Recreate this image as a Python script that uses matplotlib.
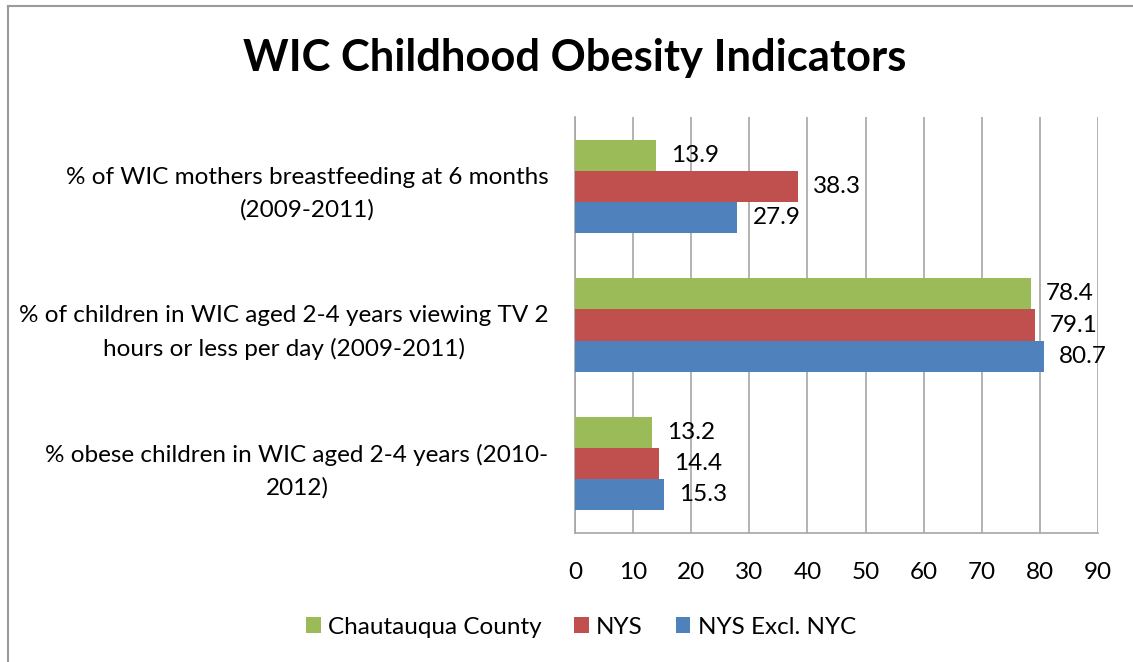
import matplotlib
matplotlib.use("Agg")
import matplotlib.pyplot as plt
from matplotlib.patches import Patch
from matplotlib.lines import Line2D
import numpy as np

plt.rcParams['font.family'] = ['Lato', 'DejaVu Sans']

categories = [
    "% obese children in WIC aged 2-4 years (2010-\n2012)",
    "% of children in WIC aged 2-4 years viewing TV 2\nhours or less per day (2009-2011)",
    "% of WIC mothers breastfeeding at 6 months\n(2009-2011)",
]
series_names = ["Chautauqua County", "NYS", "NYS Excl. NYC"]
chautauqua = [13.2, 78.4, 13.9]
nys = [14.4, 79.1, 38.3]
nys_excl_nyc = [15.3, 80.7, 27.9]
colors = ["#9BBB59", "#C0504D", "#4F81BD"]
xticks = [0, 10, 20, 30, 40, 50, 60, 70, 80, 90]

W, H = 1133, 662
fig = plt.figure(figsize=(W / 100, H / 100), dpi=100)
ax = fig.add_axes([575 / W, 1 - 533 / H, (1098 - 575) / W, (533 - 117) / H])

y = np.arange(len(categories))
bh = 0.224
offsets = [bh, 0, -bh]
fs = 17.5
for vals, off, c, name in zip([chautauqua, nys, nys_excl_nyc], offsets, colors, series_names):
    bars = ax.barh(y + off, vals, height=bh, color=c, label=name, zorder=3)
    for b, v in zip(bars, vals):
        ax.annotate(f"{v}", (v, b.get_y() + b.get_height() / 2), xytext=(11, 0),
                    textcoords="offset points", ha="left", va="center",
                    fontsize=fs, color="black", zorder=4)

ax.set_xlim(0, 90)
ax.set_ylim(-0.5, 2.5)
ax.set_xticks(xticks)
ax.set_xticklabels([str(t) for t in xticks], fontsize=fs)
ax.set_yticks(y)
ax.set_yticklabels(categories, fontsize=fs)
for lbl in ax.get_yticklabels():
    lbl.set_multialignment("center")
    lbl.set_linespacing(1.65)
ax.tick_params(axis="x", length=0, pad=21)
ax.tick_params(axis="y", length=0, pad=19)
ax.grid(axis="x", color="#A6A6A6", linewidth=1.2, zorder=0)
for s in ["top", "right"]:
    ax.spines[s].set_visible(False)
for s in ["left", "bottom"]:
    ax.spines[s].set_color("#A6A6A6")
    ax.spines[s].set_linewidth(1.2)

fig.text(575 / W, 1 - 58 / H, "WIC Childhood Obesity Indicators", ha="center", va="center",
         fontsize=31.3, fontweight="bold")

handles = [Patch(facecolor=c, edgecolor="none") for c in colors]
fig.legend(handles, series_names, loc="center", bbox_to_anchor=(581 / W, 1 - 627 / H),
           ncol=3, frameon=False, fontsize=fs, handlelength=0.6, handleheight=0.6,
           handletextpad=0.3, columnspacing=1.35)

# outer chart border (left and top edges visible)
fig.add_artist(Line2D([8 / W, 8 / W], [0, 1 - 6 / H], color="#9A9A9A", linewidth=1.5,
                      transform=fig.transFigure))
fig.add_artist(Line2D([8 / W, 1], [1 - 6 / H, 1 - 6 / H], color="#9A9A9A", linewidth=1.5,
                      transform=fig.transFigure))

fig.savefig("out.png", dpi=100)
